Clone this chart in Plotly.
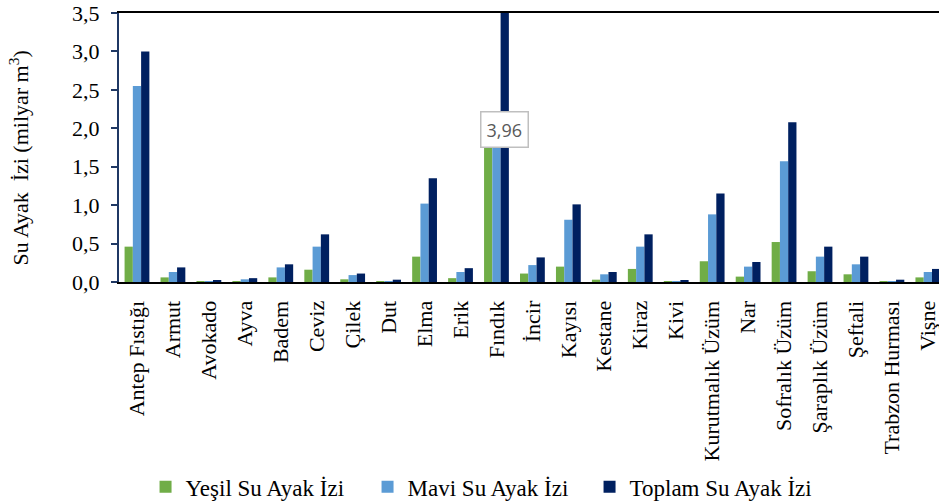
import plotly.graph_objects as go

urunler = [
    "Antep Fıstığı", "Armut", "Avokado", "Ayva", "Badem", "Ceviz", "Çilek", "Dut",
    "Elma", "Erik", "Fındık", "İncir", "Kayısı", "Kestane", "Kiraz", "Kivi",
    "Kurutmalık Üzüm", "Nar", "Sofralık Üzüm", "Şaraplık Üzüm", "Şeftali",
    "Trabzon Hurması", "Vişne",
]
yesil = [0.46, 0.06, 0.01, 0.01, 0.06, 0.16, 0.035, 0.01, 0.33, 0.05, 2.08, 0.11,
         0.20, 0.03, 0.17, 0.01, 0.27, 0.07, 0.52, 0.14, 0.10, 0.01, 0.06]
mavi = [2.55, 0.13, 0.01, 0.035, 0.19, 0.46, 0.09, 0.01, 1.02, 0.13, 1.88, 0.22,
        0.81, 0.10, 0.46, 0.01, 0.88, 0.20, 1.57, 0.33, 0.23, 0.01, 0.13]
toplam = [3.00, 0.19, 0.02, 0.05, 0.23, 0.62, 0.11, 0.03, 1.35, 0.18, 3.96, 0.32,
          1.01, 0.13, 0.62, 0.02, 1.15, 0.26, 2.08, 0.46, 0.33, 0.03, 0.17]

serif = "Liberation Serif, Times New Roman, serif"

fig = go.Figure()
for name, vals, color in [
    ("Yeşil Su Ayak İzi", yesil, "#70AD47"),
    ("Mavi Su Ayak İzi", mavi, "#5B9BD5"),
    ("Toplam Su Ayak İzi", toplam, "#002060"),
]:
    fig.add_trace(go.Bar(x=urunler, y=vals, name=name, marker_color=color,
                         marker_line_width=0))

# data label of the clipped Fındık bar
fig.add_annotation(
    x="Fındık", y=1.98, text="3,96", showarrow=False, xshift=8,
    font=dict(family="Open Sans, sans-serif", size=18, color="#595959"),
    bgcolor="white", bordercolor="#BFBFBF", borderwidth=1.5, borderpad=5,
)

fig.add_annotation(
    text="Su Ayak  İzi (milyar m<sup>3</sup>)", textangle=-90, showarrow=False,
    xref="paper", yref="paper", x=0, y=0.5, xanchor="center", yanchor="middle",
    xshift=-101, yshift=-11, font=dict(family=serif, size=22, color="black"),
)

fig.update_layout(
    width=939, height=504,
    margin=dict(l=119, r=0, t=13, b=222),
    plot_bgcolor="white", paper_bgcolor="white",
    barmode="group", bargap=0.31, bargroupgap=0,
    separators=",.",
    font=dict(family=serif, size=22, color="black"),
    showlegend=True,
    legend=dict(
        orientation="h", xref="container", yref="container",
        x=0.155, y=0.034, xanchor="left", yanchor="middle",
        entrywidth=177, entrywidthmode="pixels",
        font=dict(family=serif, size=23),
    ),
)

fig.update_xaxes(
    range=[-0.5, 22.31], tickangle=-90, showgrid=False,
    showline=True, linecolor="black", linewidth=2, mirror=True,
    ticks="", ticklabelstandoff=8, tickfont=dict(family=serif, size=22),
)
fig.update_yaxes(
    range=[0, 3.5], dtick=0.5, tickformat=".1f", showgrid=False, zeroline=False,
    showline=True, linecolor="#1F3864", linewidth=2,
    ticks="outside", ticklen=6, tickcolor="#1F3864", tickwidth=2,
    ticklabelstandoff=7, ticklabeloverflow="allow",
    tickfont=dict(family=serif, size=22),
)

# drop the browser's default body margin so the chart sits at the page corner
fig.write_html("out.html", config={"displayModeBar": False},
               post_script="document.body.style.margin='0px';")
